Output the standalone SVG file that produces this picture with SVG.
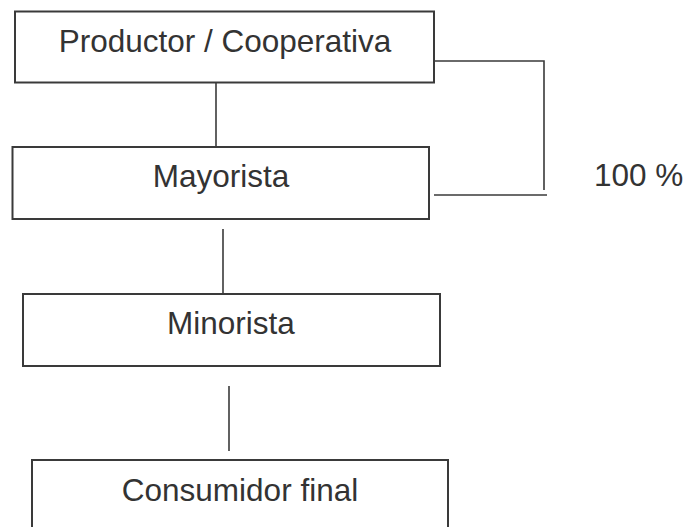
<svg xmlns="http://www.w3.org/2000/svg" width="686" height="527" viewBox="0 0 686 527">
<style>
.box{fill:#fff;stroke:#3a3a3a;stroke-width:2}
.lbl{font-family:"Liberation Sans",Arial,sans-serif;font-size:31.5px;fill:#333;text-anchor:middle}
.con{fill:none;stroke:#3a3a3a;stroke-width:1.6}
</style>
<rect width="686" height="527" fill="#fff"/>
<g id="connectors">
<line class="con" x1="216" y1="83" x2="216" y2="147"/>
<line class="con" x1="223" y1="229" x2="223" y2="293"/>
<line class="con" x1="229" y1="386" x2="229" y2="451"/>
<polyline class="con" points="431,61 544,61 544,190"/>
<line class="con" x1="434" y1="195" x2="547" y2="195"/>
</g>
<g id="productor">
<rect class="box" x="15" y="11.5" width="419" height="71"/>
<text class="lbl" x="225" y="52">Productor / Cooperativa</text>
</g>
<g id="mayorista">
<rect class="box" x="12.5" y="147" width="416.5" height="72"/>
<text class="lbl" x="221" y="186.5">Mayorista</text>
</g>
<g id="minorista">
<rect class="box" x="23" y="294" width="417" height="72"/>
<text class="lbl" x="231" y="334">Minorista</text>
</g>
<g id="consumidor">
<rect class="box" x="32" y="460" width="416" height="80"/>
<text class="lbl" x="240" y="500.5">Consumidor final</text>
</g>
<g id="porcentaje">
<text class="lbl" x="594" y="186" style="text-anchor:start">100 %</text>
</g>
</svg>
